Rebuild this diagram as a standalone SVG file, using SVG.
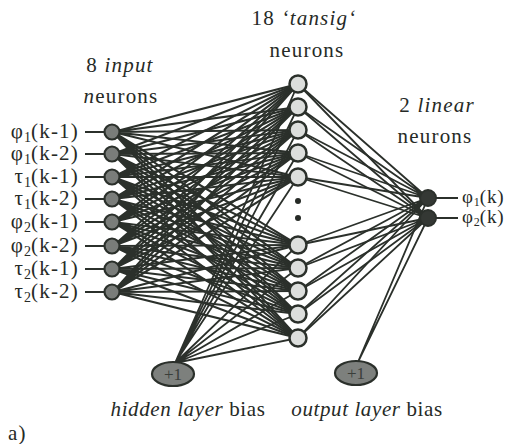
<svg xmlns="http://www.w3.org/2000/svg" width="517" height="444" viewBox="0 0 517 444" font-family="'Liberation Serif', 'Times New Roman', serif">
<style>
text{font-family:"Liberation Serif","Times New Roman",serif;fill:#262a26;font-size:21px;letter-spacing:1.2px}
.it{font-style:italic}
.sub{font-size:14px;letter-spacing:0}
.c{fill:none;stroke:#2b302b;stroke-width:2.1}
.c2{fill:none;stroke:#2b302b;stroke-width:1.8}
.lab{fill:none;stroke:#2b302b;stroke-width:1.8}
.in{fill:#7a7d7a;stroke:#2b302b;stroke-width:2.2}
.hid{fill:#dcdedc;stroke:#2b302b;stroke-width:2.5}
.out{fill:#343834;stroke:#2b302b;stroke-width:2}
.bias{fill:#7d807d;stroke:#2b302b;stroke-width:2.2}
.bt{font-size:17px;fill:#3a3e3a;letter-spacing:0}
.bl{letter-spacing:0.6px}
.ol{font-size:19px;letter-spacing:0.8px}
.osub{font-size:12px;letter-spacing:0}
</style>
<rect width="517" height="444" fill="#ffffff"/>
<g id="connectors">
<path class="c" d="M113 132L298 84M113 132L298 107M113 132L298 130M113 132L298 153M113 132L298 177M113 132L298 245M113 132L298 268M113 132L298 291M113 132L298 314M113 132L298 338"/>
<path class="c" d="M113 154L298 84M113 154L298 107M113 154L298 130M113 154L298 153M113 154L298 177M113 154L298 245M113 154L298 268M113 154L298 291M113 154L298 314M113 154L298 338"/>
<path class="c" d="M113 177L298 84M113 177L298 107M113 177L298 130M113 177L298 153M113 177L298 177M113 177L298 245M113 177L298 268M113 177L298 291M113 177L298 314M113 177L298 338"/>
<path class="c" d="M113 199L298 84M113 199L298 107M113 199L298 130M113 199L298 153M113 199L298 177M113 199L298 245M113 199L298 268M113 199L298 291M113 199L298 314M113 199L298 338"/>
<path class="c" d="M113 222L298 84M113 222L298 107M113 222L298 130M113 222L298 153M113 222L298 177M113 222L298 245M113 222L298 268M113 222L298 291M113 222L298 314M113 222L298 338"/>
<path class="c" d="M113 246L298 84M113 246L298 107M113 246L298 130M113 246L298 153M113 246L298 177M113 246L298 245M113 246L298 268M113 246L298 291M113 246L298 314M113 246L298 338"/>
<path class="c" d="M113 269L298 84M113 269L298 107M113 269L298 130M113 269L298 153M113 269L298 177M113 269L298 245M113 269L298 268M113 269L298 291M113 269L298 314M113 269L298 338"/>
<path class="c" d="M113 292L298 84M113 292L298 107M113 292L298 130M113 292L298 153M113 292L298 177M113 292L298 245M113 292L298 268M113 292L298 291M113 292L298 314M113 292L298 338"/>
<path class="c2" d="M175 363L298 84M175 363L298 107M175 363L298 130M175 363L298 153M175 363L298 177M175 363L298 245M175 363L298 268M175 363L298 291M175 363L298 314M175 363L298 338"/>
<path class="c2" d="M298 84L428 198M298 107L428 198M298 130L428 198M298 153L428 198M298 177L428 198M298 245L428 198M298 268L428 198M298 291L428 198M298 314L428 198M298 338L428 198"/>
<path class="c2" d="M298 84L428 218M298 107L428 218M298 130L428 218M298 153L428 218M298 177L428 218M298 245L428 218M298 268L428 218M298 291L428 218M298 314L428 218M298 338L428 218"/>
<path class="c2" d="M358 362L428 198M358 362L428 218"/>
<path class="lab" d="M85 132H105M85 154H105M85 177H105M85 199H105M85 222H105M85 246H105M85 269H105M85 292H105M436 198H458M436 218H458"/>
</g>
<g id="input-neurons">
<circle class="in" cx="112" cy="132" r="7.5"/>
<circle class="in" cx="112" cy="154" r="7.5"/>
<circle class="in" cx="112" cy="177" r="7.5"/>
<circle class="in" cx="112" cy="199" r="7.5"/>
<circle class="in" cx="112" cy="222" r="7.5"/>
<circle class="in" cx="112" cy="246" r="7.5"/>
<circle class="in" cx="112" cy="269" r="7.5"/>
<circle class="in" cx="112" cy="292" r="7.5"/>
</g>
<g id="hidden-neurons">
<circle class="hid" cx="298" cy="84" r="8.5"/>
<circle class="hid" cx="298" cy="107" r="8.5"/>
<circle class="hid" cx="298" cy="130" r="8.5"/>
<circle class="hid" cx="298" cy="153" r="8.5"/>
<circle class="hid" cx="298" cy="177" r="8.5"/>
<circle cx="298" cy="201" r="3" fill="#262a26"/>
<circle cx="298" cy="218" r="3" fill="#262a26"/>
<circle class="hid" cx="298" cy="245" r="8.5"/>
<circle class="hid" cx="298" cy="268" r="8.5"/>
<circle class="hid" cx="298" cy="291" r="8.5"/>
<circle class="hid" cx="298" cy="314" r="8.5"/>
<circle class="hid" cx="298" cy="338" r="8.5"/>
</g>
<g id="output-neurons">
<circle class="out" cx="428" cy="198" r="8"/>
<circle class="out" cx="428" cy="218" r="8"/>
</g>
<g id="hidden-bias">
<ellipse class="bias" cx="173" cy="374" rx="21" ry="12"/>
<text class="bt" x="173" y="380" text-anchor="middle">+1</text>
</g>
<g id="output-bias">
<ellipse class="bias" cx="356" cy="373" rx="21" ry="12"/>
<text class="bt" x="356" y="379" text-anchor="middle">+1</text>
</g>
<g id="labels">
<text x="79" y="138" text-anchor="end">φ<tspan class="sub" dy="4">1</tspan><tspan dy="-4">(k-1)</tspan></text>
<text x="79" y="160" text-anchor="end">φ<tspan class="sub" dy="4">1</tspan><tspan dy="-4">(k-2)</tspan></text>
<text x="79" y="183" text-anchor="end">τ<tspan class="sub" dy="4">1</tspan><tspan dy="-4">(k-1)</tspan></text>
<text x="79" y="205" text-anchor="end">τ<tspan class="sub" dy="4">1</tspan><tspan dy="-4">(k-2)</tspan></text>
<text x="79" y="228" text-anchor="end">φ<tspan class="sub" dy="4">2</tspan><tspan dy="-4">(k-1)</tspan></text>
<text x="79" y="252" text-anchor="end">φ<tspan class="sub" dy="4">2</tspan><tspan dy="-4">(k-2)</tspan></text>
<text x="79" y="275" text-anchor="end">τ<tspan class="sub" dy="4">2</tspan><tspan dy="-4">(k-1)</tspan></text>
<text x="79" y="298" text-anchor="end">τ<tspan class="sub" dy="4">2</tspan><tspan dy="-4">(k-2)</tspan></text>
<text class="ol" x="462" y="203">φ<tspan class="osub" dy="3">1</tspan><tspan dy="-3">(k)</tspan></text>
<text class="ol" x="462" y="223">φ<tspan class="osub" dy="3">2</tspan><tspan dy="-3">(k)</tspan></text>
<text x="120" y="72" text-anchor="middle">8 <tspan class="it">input</tspan></text>
<text x="121" y="103" text-anchor="middle"><tspan class="it">n</tspan>eurons</text>
<text x="304" y="25" text-anchor="middle">18 <tspan class="it">‘tansig‘</tspan></text>
<text x="307" y="57" text-anchor="middle">neurons</text>
<text x="437" y="112" text-anchor="middle">2 <tspan class="it">linear</tspan></text>
<text x="435" y="143" text-anchor="middle">neurons</text>
<text class="bl" x="188" y="416" text-anchor="middle"><tspan class="it">hidden layer</tspan> bias</text>
<text class="bl" x="367" y="416" text-anchor="middle"><tspan class="it">output layer</tspan> bias</text>
<text x="8" y="440">a)</text>
</g>
</svg>
